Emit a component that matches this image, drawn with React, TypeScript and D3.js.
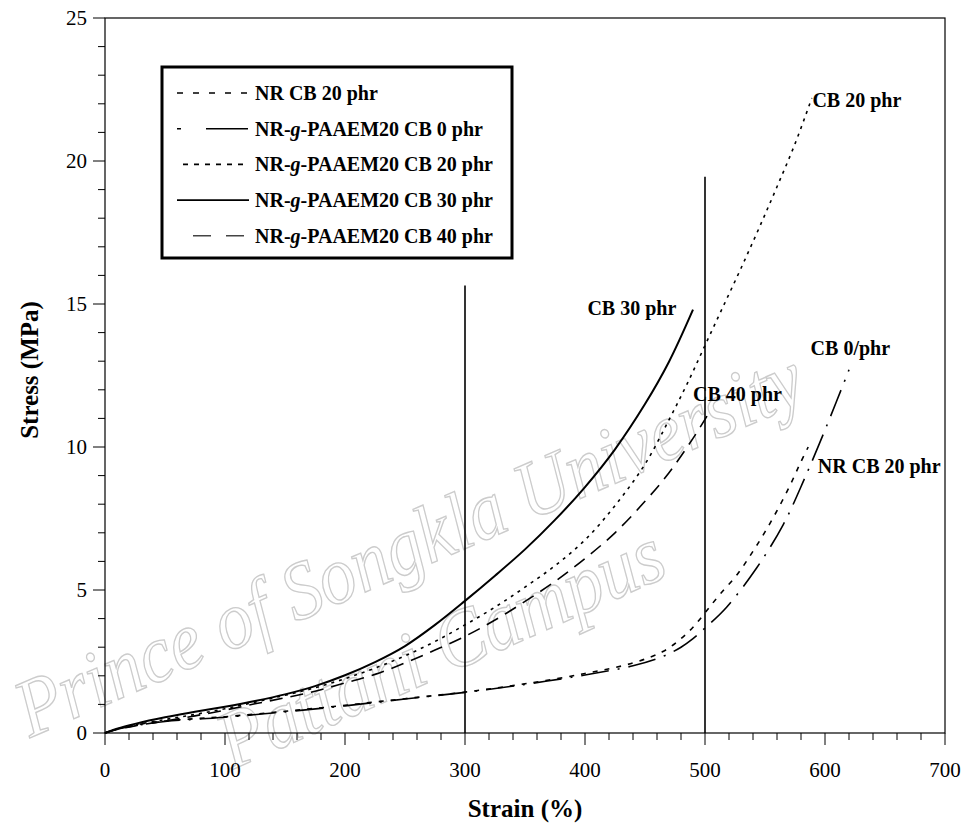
import React from "react";
import * as d3 from "d3";

// Axis ticks
const strainTicks = [0, 100, 200, 300, 400, 500, 600, 700];
const stressTicks = [0, 5, 10, 15, 20, 25];

// NR CB 20 phr
const nrCb20Strain = [0, 10, 25, 50, 75, 100, 150, 200, 250, 300, 350, 400, 440, 465, 480, 490, 500, 512, 527, 539, 550, 561, 571, 579, 586];
const nrCb20Stress = [0, 0.14, 0.28, 0.42, 0.5, 0.57, 0.76, 0.97, 1.2, 1.43, 1.72, 2.08, 2.45, 2.85, 3.3, 3.7, 4.2, 4.83, 5.55, 6.29, 7.03, 7.85, 8.67, 9.4, 10.0];

// NR-g-PAAEM20 CB 0 phr
const cb0Strain = [0, 10, 25, 50, 75, 100, 150, 200, 250, 300, 350, 400, 440, 465, 480, 490, 500, 518, 543, 565, 583, 602, 620];
const cb0Stress = [0, 0.13, 0.26, 0.4, 0.48, 0.55, 0.74, 0.95, 1.19, 1.42, 1.7, 2.03, 2.35, 2.68, 3.0, 3.3, 3.67, 4.4, 5.77, 7.27, 8.9, 10.8, 12.7];

// NR-g-PAAEM20 CB 20 phr
const cb20Strain = [0, 10, 25, 50, 75, 100, 125, 150, 175, 200, 225, 250, 275, 300, 325, 350, 375, 400, 425, 450, 470, 485, 500, 515, 530, 545, 560, 575, 589];
const cb20Stress = [0, 0.14, 0.28, 0.47, 0.65, 0.85, 1.08, 1.32, 1.58, 1.9, 2.27, 2.7, 3.2, 3.78, 4.4, 5.1, 5.85, 6.75, 7.95, 9.4, 10.95, 12.2, 13.55, 14.9, 16.25, 17.65, 19.1, 20.6, 22.2];

// NR-g-PAAEM20 CB 30 phr
const cb30Strain = [0, 10, 25, 50, 75, 100, 125, 150, 175, 200, 225, 250, 275, 300, 325, 350, 375, 400, 425, 450, 470, 490];
const cb30Stress = [0, 0.15, 0.32, 0.55, 0.74, 0.92, 1.12, 1.35, 1.64, 2.02, 2.48, 3.04, 3.78, 4.62, 5.5, 6.42, 7.45, 8.6, 9.92, 11.5, 12.98, 14.8];

// NR-g-PAAEM20 CB 40 phr
const cb40Strain = [0, 10, 25, 50, 75, 100, 125, 150, 175, 200, 225, 250, 275, 300, 325, 350, 375, 400, 425, 450, 470, 490, 502];
const cb40Stress = [0, 0.12, 0.25, 0.42, 0.6, 0.8, 1.02, 1.23, 1.46, 1.75, 2.05, 2.45, 2.9, 3.38, 3.95, 4.6, 5.3, 6.1, 7.0, 8.1, 9.1, 10.3, 11.1];

// Vertical marker lines (strain, top stress)
const markerStrain = [300, 500];
const markerTop = [15.65, 19.45];

// Curve end labels
const endLabels = ["CB 20 phr", "CB 30 phr", "CB 0/phr", "CB 40 phr", "NR CB 20 phr"];
const endLabelStrain = [589.5, 402, 588, 490, 594];
const endLabelStress = [21.9, 14.6, 13.2, 11.6, 9.1];

const legendNames = ["NR CB 20 phr", "NR-g-PAAEM20 CB 0 phr", "NR-g-PAAEM20 CB 20 phr", "NR-g-PAAEM20 CB 30 phr", "NR-g-PAAEM20 CB 40 phr"];

const W = 965;
const H = 830;
const FONT = "'Liberation Serif', 'Times New Roman', serif";

type Series = { xs: number[]; ys: number[]; dash: string; width: number };

const series: Series[] = [
  { xs: nrCb20Strain, ys: nrCb20Stress, dash: "5,7", width: 1.6 },
  { xs: cb0Strain, ys: cb0Stress, dash: "28,9,2,9", width: 1.6 },
  { xs: cb20Strain, ys: cb20Stress, dash: "3,5", width: 1.6 },
  { xs: cb30Strain, ys: cb30Stress, dash: "", width: 2 },
  { xs: cb40Strain, ys: cb40Stress, dash: "13,8", width: 1.6 },
];

// legend sample geometry: [x0, x1, dash, colour]
const legendSamples: [number, number, string, string][] = [
  [177, 248, "6,10", "#000"],
  [177, 248, "4,25,42", "#000"],
  [183, 243, "5,6", "#000"],
  [177, 249, "", "#000"],
  [193, 245, "18,15", "#444"],
];

function LegendName({ text }: { text: string }) {
  const parts = text.split("-g-");
  if (parts.length === 1) return <>{text}</>;
  return (
    <>
      <tspan>{parts[0]}-</tspan>
      <tspan fontStyle="italic">g</tspan>
      <tspan>-{parts[1]}</tspan>
    </>
  );
}

export default function App() {
  const x = d3.scaleLinear().domain([0, 700]).range([105, 945]);
  const y = d3.scaleLinear().domain([0, 25]).range([733, 18]);

  const line = (s: Series) =>
    d3
      .line<number>()
      .x((_, i) => x(s.xs[i]))
      .y((v) => y(v))
      .curve(d3.curveCatmullRom.alpha(0.5))(s.ys) || "";

  const minorX = d3.range(0, 701, 20);
  const minorY = d3.range(0, 26, 1);

  return (
    <svg
      width={W}
      height={H}
      viewBox={`0 0 ${W} ${H}`}
      style={{ position: "absolute", left: 0, top: 0, background: "#fff" }}
      fontFamily={FONT}
    >
      <rect x={0} y={0} width={W} height={H} fill="#fff" />

      {/* watermark */}
      <g fill="none" stroke="#cccccc" strokeWidth={1.4} fontStyle="italic" fontFamily={FONT}>
        <text
          transform="translate(30,738) rotate(-23.5)"
          fontSize={82}
          textLength={850}
          lengthAdjust="spacingAndGlyphs"
        >
          Prince of Songkla University
        </text>
        <text
          transform="translate(232,770) rotate(-24)"
          fontSize={82}
          textLength={480}
          lengthAdjust="spacingAndGlyphs"
        >
          Pattani Campus
        </text>
      </g>

      {/* frame */}
      <rect x={x(0)} y={y(25)} width={x(700) - x(0)} height={y(0) - y(25)} fill="none" stroke="#000" strokeWidth={1.2} />

      {/* x ticks */}
      {minorX.map((v) => (
        <line key={"xt" + v} x1={x(v)} x2={x(v)} y1={y(0)} y2={y(0) + (v % 100 === 0 ? 12 : 7)} stroke="#000" strokeWidth={1} />
      ))}
      {strainTicks.map((v) => (
        <text key={"xl" + v} x={x(v)} y={777} fontSize={21} textAnchor="middle">
          {v}
        </text>
      ))}

      {/* y ticks */}
      {minorY.map((v) => (
        <line key={"yt" + v} x1={x(0)} x2={x(0) - (v % 5 === 0 ? 12 : 7)} y1={y(v)} y2={y(v)} stroke="#000" strokeWidth={1} />
      ))}
      {stressTicks.map((v) => (
        <text key={"yl" + v} x={87} y={y(v)} dy="0.35em" fontSize={21} textAnchor="end">
          {v}
        </text>
      ))}

      {/* axis titles */}
      <text x={525} y={817} fontSize={25} fontWeight="bold" textAnchor="middle">
        Strain (%)
      </text>
      <text transform="translate(38,370) rotate(-90)" fontSize={25} fontWeight="bold" textAnchor="middle">
        Stress (MPa)
      </text>

      {/* vertical markers */}
      {markerStrain.map((v, i) => (
        <line key={"m" + v} x1={x(v)} x2={x(v)} y1={y(0)} y2={y(markerTop[i])} stroke="#000" strokeWidth={1.6} />
      ))}

      {/* curves */}
      {series.map((s, i) => (
        <path key={"c" + i} d={line(s)} fill="none" stroke="#000" strokeWidth={s.width} strokeDasharray={s.dash || undefined} />
      ))}

      {/* end labels */}
      {endLabels.map((t, i) => (
        <text key={"el" + i} x={x(endLabelStrain[i])} y={y(endLabelStress[i])} fontSize={20} fontWeight="bold">
          {t}
        </text>
      ))}

      {/* legend */}
      <rect x={162} y={67} width={350} height={191} fill="#fff" stroke="#000" strokeWidth={3} />
      {legendNames.map((name, i) => {
        const ly = 93 + i * 35.7;
        const [x0, x1, dash, col] = legendSamples[i];
        return (
          <g key={"lg" + i}>
            <line x1={x0} x2={x1} y1={ly} y2={ly} stroke={col} strokeWidth={1.6} strokeDasharray={dash || undefined} />
            <text x={255} y={ly + 7} fontSize={20} fontWeight="bold">
              <LegendName text={name} />
            </text>
          </g>
        );
      })}
    </svg>
  );
}
